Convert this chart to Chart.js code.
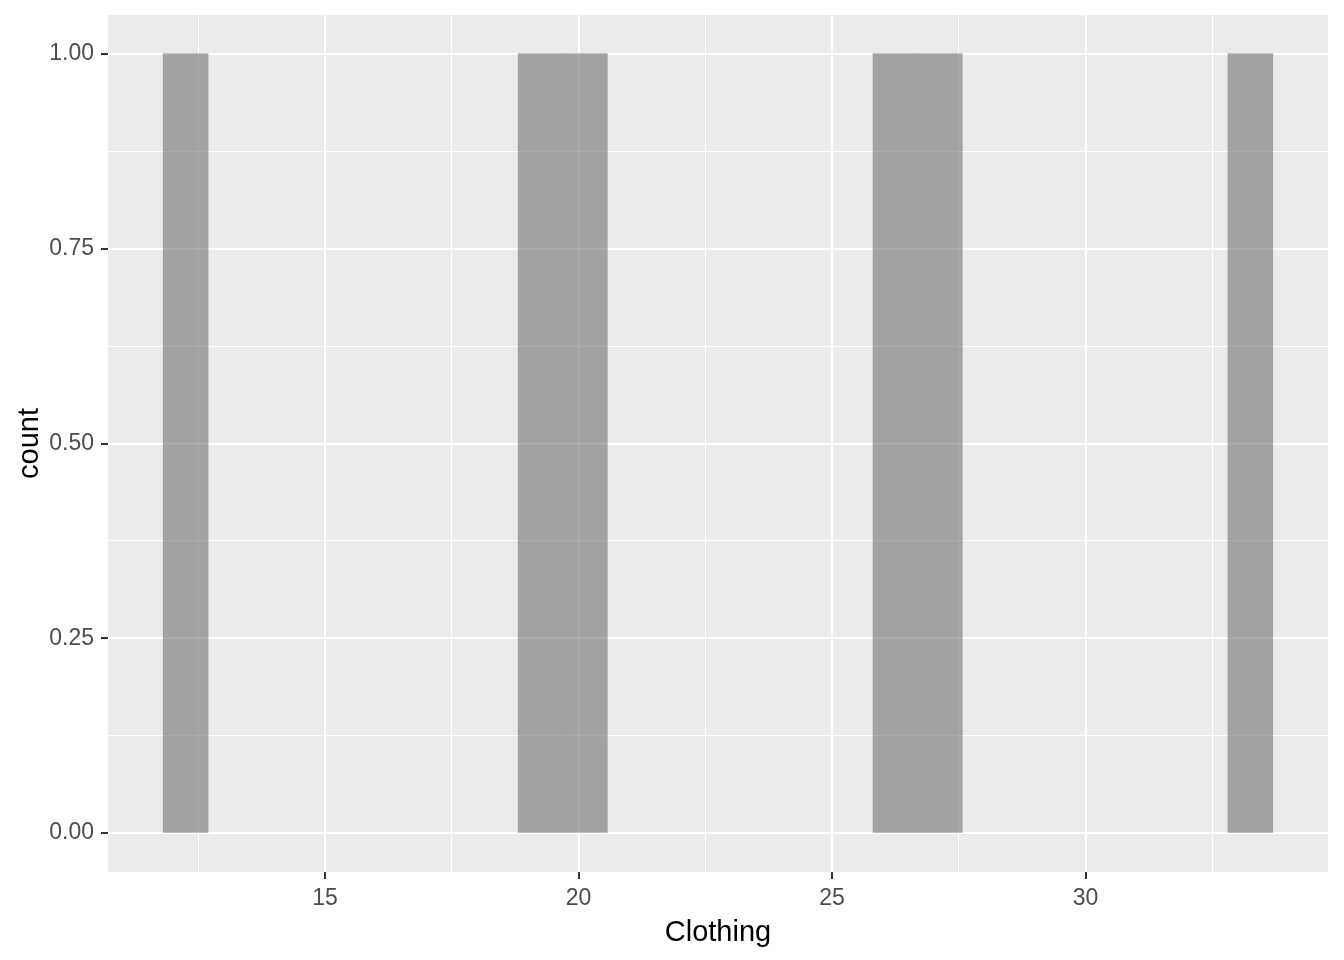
<!DOCTYPE html>
<html>
<head>
<meta charset="utf-8">
<script src="https://cdn.jsdelivr.net/npm/chart.js@4"></script>
<style>
  html, body { margin:0; padding:0; background:#fff; }
  #wrap { width:1344px; height:960px; }
</style>
</head>
<body>
<div id="wrap"><canvas id="chart" width="1344" height="960"></canvas></div>
<script>
/* ===== Data (histogram bins) ===== */
const binCenters = [12.25, 13.125, 14, 14.875, 15.75, 16.625, 17.5, 18.375, 19.25, 20.125, 21, 21.875, 22.75,
                    23.625, 24.5, 25.375, 26.25, 27.125, 28, 28.875, 29.75, 30.625, 31.5, 32.375, 33.25];
const counts     = [1, 0, 0, 0, 0, 0, 0, 0, 1, 1, 0, 0, 0, 0, 0, 0, 1, 1, 0, 0, 0, 0, 0, 0, 1];
const xMajor = [15, 20, 25, 30];
const xMinor = [12.5, 17.5, 22.5, 27.5, 32.5];
const yMajor = [0, 0.25, 0.5, 0.75, 1];
const yMinor = [0.125, 0.375, 0.625, 0.875];
const xRange = [10.71875, 34.78125];
const yRange = [-0.05, 1.05];

/* ===== Helpers ===== */
const FONT = "'Liberation Sans', Arial, sans-serif";
const isMajor = (list, v) => list.some(m => Math.abs(m - v) < 1e-9);
const setTicks = (major, minor) => scale => {
  scale.ticks = [...major, ...minor].sort((a,b)=>a-b).map(v => ({value:v}));
};
const noPad = s => { s.paddingTop = 0; s.paddingBottom = 0; s.paddingLeft = 0; s.paddingRight = 0; };

// grey panel behind the grid
const panelBg = {
  id:'panelBg',
  beforeDraw(chart){
    const {ctx, chartArea:a} = chart;
    ctx.save(); ctx.fillStyle = '#EBEBEB';
    ctx.fillRect(a.left, a.top, a.right - a.left, a.bottom - a.top);
    ctx.restore();
  }
};

// grid faintly showing through the (semi transparent in the original) bars
const gridThrough = {
  id:'gridThrough',
  afterDatasetsDraw(chart){
    const {ctx, chartArea:a, scales} = chart;
    ctx.save();
    ctx.beginPath(); ctx.rect(a.left, a.top, a.right - a.left, a.bottom - a.top); ctx.clip();
    ctx.strokeStyle = 'rgba(255,255,255,0.11)';
    scales.x.ticks.forEach(t => {
      const px = scales.x.getPixelForValue(t.value);
      ctx.lineWidth = isMajor(xMajor, t.value) ? 2 : 1;
      ctx.beginPath(); ctx.moveTo(px, a.top); ctx.lineTo(px, a.bottom); ctx.stroke();
    });
    scales.y.ticks.forEach(t => {
      const py = scales.y.getPixelForValue(t.value);
      ctx.lineWidth = isMajor(yMajor, t.value) ? 2 : 1;
      ctx.beginPath(); ctx.moveTo(a.left, py); ctx.lineTo(a.right, py); ctx.stroke();
    });
    ctx.restore();
  }
};

new Chart(document.getElementById('chart'), {
  type:'bar',
  data:{
    datasets:[{
      data: binCenters.map((x,i) => ({x, y:counts[i]})),
      backgroundColor: c => (c.raw && c.raw.y > 0) ? '#A2A2A2' : 'rgba(0,0,0,0)',
      borderWidth:0,
      inflateAmount:0.6,
      categoryPercentage:1,
      barPercentage:1
    }]
  },
  options:{
    responsive:false,
    animation:false,
    layout:{ padding:{ top:15, right:16, left:0, bottom:0 } },
    plugins:{ legend:{display:false}, tooltip:{enabled:false} },
    scales:{
      x:{
        type:'linear', min:xRange[0], max:xRange[1], offset:false,
        afterBuildTicks: setTicks(xMajor, xMinor),
        afterFit: s => { s.height = 88; noPad(s); },
        border:{ display:false },
        grid:{
          offset:false, color:'#fff',
          lineWidth: c => isMajor(xMajor, c.tick.value) ? 2 : 1,
          tickColor: c => isMajor(xMajor, c.tick.value) ? '#333' : 'rgba(0,0,0,0)',
          tickWidth:2, tickLength:7
        },
        ticks:{
          autoSkip:false, maxRotation:0, padding:6, color:'#4D4D4D',
          font:{ family:FONT, size:23 },
          callback: v => isMajor(xMajor, v) ? String(v) : ''
        },
        title:{ display:true, text:'Clothing', color:'#000', font:{ family:FONT, size:29 }, padding:{top:0, bottom:10} }
      },
      y:{
        min:yRange[0], max:yRange[1],
        afterBuildTicks: setTicks(yMajor, yMinor),
        afterFit: s => { s.width = 108; noPad(s); },
        border:{ display:false },
        grid:{
          color:'#fff',
          lineWidth: c => isMajor(yMajor, c.tick.value) ? 2 : 1,
          tickColor: c => isMajor(yMajor, c.tick.value) ? '#333' : 'rgba(0,0,0,0)',
          tickWidth:2, tickLength:7
        },
        ticks:{
          autoSkip:false, padding:7, color:'#4D4D4D',
          font:{ family:FONT, size:23 },
          callback: v => isMajor(yMajor, v) ? v.toFixed(2) : ''
        },
        title:{ display:true, text:'count', color:'#000', font:{ family:FONT, size:29 }, padding:{top:13, bottom:0} }
      }
    }
  },
  plugins:[panelBg, gridThrough]
});
</script>
</body>
</html>
